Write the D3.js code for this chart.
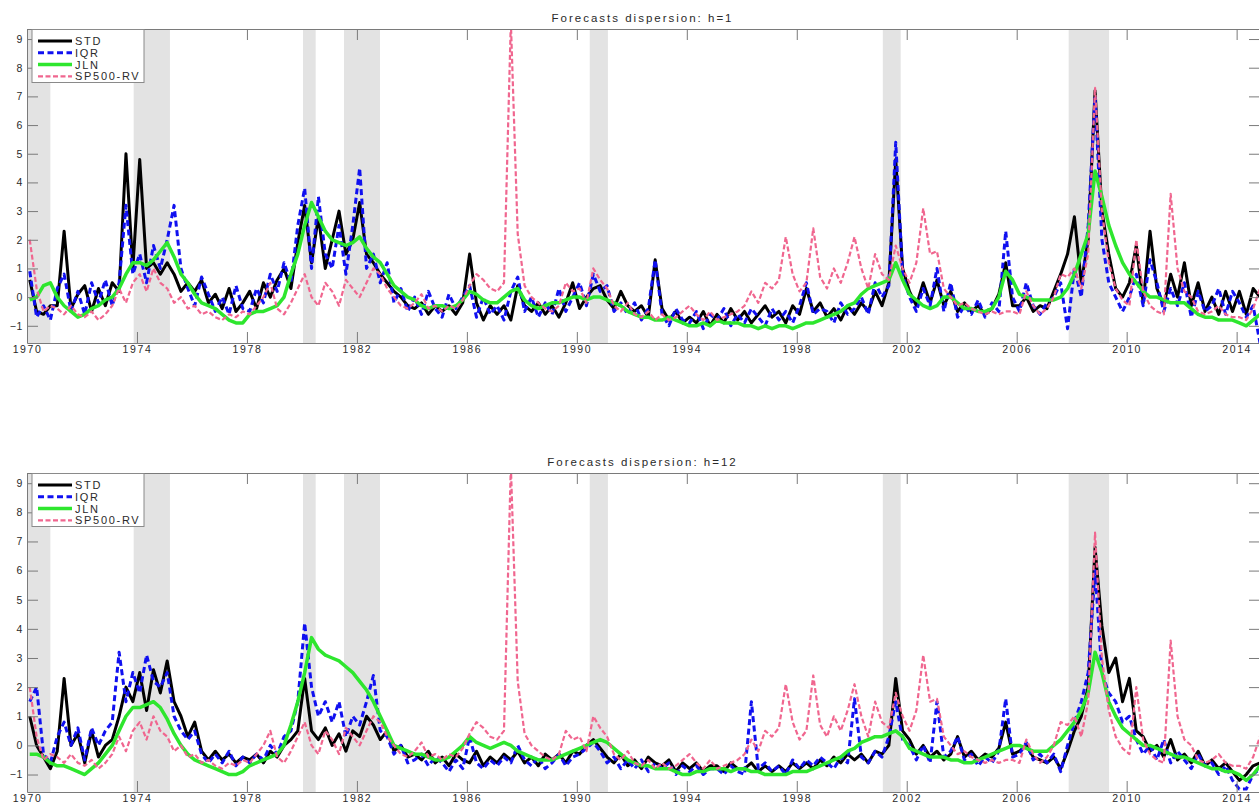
<!DOCTYPE html>
<meta charset="utf-8">
<style>
  body { margin: 0; background: #fff; }
  svg text { font-family: "Liberation Sans", Arial, sans-serif; fill: #2a2a2a; }
</style>
<body>
<script src="https://d3js.org/d3.v7.min.js"></script>
<script>

var width = 1259,
    height = 804;

// values, one per quarter starting 1970Q1
var startYear = 1970,
    perYear = 4,
    inQuarter = 0.4;   // where in the quarter each point sits

var titles = ["Forecasts dispersion: h=1", "Forecasts dispersion: h=12"];
var seriesNames = ["STD", "IQR", "JLN", "SP500-RV"];
var xTicks = [1970, 1974, 1978, 1982, 1986, 1990, 1994, 1998, 2002, 2006, 2010, 2014];
var yTicks = [-1, 0, 1, 2, 3, 4, 5, 6, 7, 8, 9];

// NBER recessions, start and end in fractional years
var recessions = [[1969.95, 1970.85], [1973.88, 1975.2], [1980.04, 1980.5],
                  [1981.53, 1982.84], [1990.47, 1991.13], [2001.13, 2001.78],
                  [2007.89, 2009.36]];

var std1 = [
  0.6,-0.5,-0.6,-0.3,  -0.3,2.3,-0.4,0.1,  0.4,-0.5,0.3,-0.3,  0.5,0.2,5.0,1.0,
  4.8,1.0,1.2,0.8,  1.2,0.8,0.2,0.5,  0.2,0.6,-0.2,0.1,  -0.4,0.3,-0.5,-0.2,
  0.2,-0.4,0.5,0.0,  0.6,1.0,0.3,1.9,  3.2,1.2,2.8,1.0,  2.0,3.0,1.5,2.0,
  3.3,1.5,1.2,0.8,  0.5,0.2,0.0,-0.3,  -0.4,-0.2,-0.6,-0.3,  -0.5,-0.3,-0.6,-0.2,
  1.5,-0.2,-0.8,-0.3,  -0.6,-0.3,-0.8,0.4,  -0.3,-0.5,-0.2,-0.6,  -0.3,-0.7,-0.2,0.5,
  -0.4,0.0,0.3,0.4,  -0.1,-0.4,0.2,-0.3,  -0.5,-0.3,-0.7,1.3,  -0.4,-0.8,-0.5,-0.9,
  -0.7,-0.9,-0.5,-1.0,  -0.6,-0.9,-0.4,-0.8,  -0.5,-0.9,-0.6,-0.3,  -0.7,-0.5,-0.9,-0.3,
  -0.6,0.3,-0.5,-0.2,  -0.7,-0.4,-0.8,-0.3,  -0.6,-0.2,-0.5,0.2,  -0.3,0.5,4.8,1.0,
  0.2,-0.3,0.5,-0.2,  0.6,-0.3,0.2,-0.5,  -0.2,-0.5,-0.3,-0.6,  -0.4,0.1,1.2,-0.3,
  -0.3,0.0,-0.5,-0.3,  -0.4,0.2,0.8,1.5,  2.8,0.5,2.0,7.2,  3.0,1.5,0.3,0.0,
  0.5,1.8,-0.2,2.3,  0.3,-0.3,0.8,0.0,  1.2,-0.3,0.5,-0.5,  0.0,-0.6,0.2,-0.5,
  0.2,-0.6,0.3,0.0
];
var iqr1 = [
  0.9,-0.7,-0.3,-0.8,  0.3,0.8,-0.5,0.2,  -0.6,0.5,-0.2,0.6,  -0.3,0.5,3.2,0.8,
  1.5,0.5,1.8,1.0,  2.0,3.2,1.0,0.3,  -0.3,0.7,0.1,-0.5,  0.0,-0.6,0.4,-0.4,
  -0.5,0.3,-0.2,0.8,  0.2,1.2,0.5,2.5,  3.8,1.0,3.5,1.5,  1.0,2.5,0.8,2.5,
  4.5,1.0,1.5,0.5,  1.2,-0.2,0.3,-0.5,  0.0,-0.6,0.2,-0.4,  -0.7,0.1,-0.4,0.0,
  0.4,-0.7,0.0,-0.6,  -0.3,-0.8,0.2,0.7,  -0.5,0.0,-0.7,-0.2,  -0.6,0.3,-0.5,0.0,
  0.5,-0.3,0.8,0.2,  0.4,-0.5,-0.2,-0.6,  -0.2,-0.8,-0.4,1.3,  -0.6,-1.0,-0.4,-0.8,
  -0.9,-0.5,-1.1,-0.6,  -0.8,-0.4,-1.0,-0.6,  -0.9,-0.4,-0.7,-1.0,  -0.4,-0.8,-0.5,-0.9,
  -0.3,0.5,-0.6,-0.4,  -0.5,-0.9,-0.2,-0.6,  -0.4,0.0,-0.6,0.5,  0.0,0.4,5.4,0.8,
  0.0,-0.5,0.3,-0.3,  1.0,-0.5,0.5,-0.7,  -0.3,-0.6,-0.1,-0.7,  -0.2,-0.5,2.3,0.0,
  -0.5,0.5,-0.3,-0.6,  -0.2,0.0,0.5,-1.1,  1.0,0.0,2.5,7.0,  2.0,0.5,0.0,-0.5,
  0.0,0.8,-0.3,1.3,  0.5,-0.5,0.3,-0.3,  0.5,-0.7,0.2,-0.5,  -0.3,0.3,-0.6,0.2,
  -0.2,-0.7,-0.3,-1.6
];
var jln1 = [
  -0.1,0.0,0.4,0.5,  0.0,-0.3,-0.5,-0.7,  -0.6,-0.4,-0.3,-0.1,  0.0,0.3,0.8,1.2,
  1.2,1.1,1.3,1.6,  1.9,1.4,0.8,0.5,  0.1,-0.2,-0.3,-0.4,  -0.6,-0.8,-0.9,-0.9,
  -0.6,-0.5,-0.5,-0.4,  -0.3,0.0,0.8,1.5,  2.5,3.3,2.8,2.3,  2.0,1.9,1.8,1.9,
  2.1,1.7,1.4,1.2,  0.8,0.4,0.2,0.0,  -0.1,-0.3,-0.4,-0.3,  -0.3,-0.4,-0.3,-0.1,
  0.2,0.1,-0.1,-0.2,  -0.2,0.0,0.2,0.3,  -0.1,-0.3,-0.4,-0.3,  -0.2,-0.2,-0.1,0.0,
  0.0,-0.1,0.0,0.0,  -0.1,-0.2,-0.3,-0.5,  -0.6,-0.7,-0.7,-0.8,  -0.8,-0.7,-0.8,-0.9,
  -1.0,-1.0,-0.9,-1.0,  -0.8,-0.9,-0.9,-0.9,  -1.0,-1.0,-1.1,-1.0,  -1.1,-1.0,-1.0,-1.1,
  -1.0,-0.9,-0.9,-0.8,  -0.7,-0.6,-0.5,-0.3,  -0.2,0.1,0.3,0.4,  0.5,0.6,1.2,0.6,
  0.1,-0.1,-0.3,-0.4,  -0.3,0.0,0.0,-0.2,  -0.4,-0.4,-0.5,-0.5,  -0.4,0.0,0.9,0.6,
  0.1,0.0,-0.1,-0.1,  -0.1,-0.1,0.0,0.3,  0.8,1.5,2.2,4.4,  3.5,2.5,1.8,1.2,
  0.8,0.5,0.2,0.0,  0.0,-0.1,-0.2,-0.2,  -0.2,-0.4,-0.6,-0.7,  -0.7,-0.8,-0.8,-0.8,
  -0.9,-1.0,-0.8,-0.6
];
// the S&P 500 realised volatility is the same in both panels
var rv = [
  2.0,0.3,-0.5,-0.3,  -0.4,-0.6,-0.3,-0.6,  -0.7,-0.5,-0.8,-0.6,  -0.3,0.3,-0.2,0.5,
  0.8,0.2,1.0,0.5,  0.3,-0.2,0.0,-0.4,  -0.3,-0.6,-0.5,-0.7,  -0.8,-0.6,-0.7,-0.5,
  -0.6,-0.3,0.0,0.5,  -0.4,-0.6,-0.2,0.3,  0.8,0.0,-0.3,0.5,  0.2,-0.3,0.6,0.3,
  0.0,0.5,1.0,0.8,  0.3,0.0,-0.3,-0.4,  -0.2,0.1,-0.4,-0.3,  -0.5,-0.3,-0.4,-0.1,
  0.4,0.8,0.6,0.3,  0.2,0.5,9.6,2.2,  0.4,0.0,-0.2,-0.4,  -0.5,-0.3,0.5,0.2,
  0.3,-0.2,1.0,0.6,  0.3,-0.3,-0.5,-0.2,  -0.6,-0.7,-0.5,-0.8,  -0.6,-0.8,-0.7,-0.5,
  -0.3,-0.6,-0.8,-0.5,  -0.8,-0.7,-0.6,-0.5,  -0.3,0.2,-0.2,0.5,  0.3,0.6,2.1,0.8,
  0.2,0.5,2.4,0.7,  0.3,1.0,0.5,1.2,  2.1,1.0,0.3,1.5,  0.8,0.6,1.8,1.0,
  0.5,1.2,3.1,1.5,  1.6,0.3,0.0,-0.3,  -0.2,-0.4,-0.5,-0.6,  -0.5,-0.6,-0.5,-0.5,
  -0.6,0.2,-0.3,-0.6,  -0.4,0.0,0.8,0.7,  1.0,0.3,1.5,7.3,  3.0,1.2,0.3,-0.1,
  -0.3,2.0,0.2,-0.3,  -0.5,-0.6,3.6,1.0,  0.2,0.0,-0.5,-0.6,  -0.5,-0.3,-0.6,-0.7,
  -0.7,-0.8,-0.4,0.3
];
var std12 = [
  1.0,0.0,-0.4,-0.8,  -0.2,2.3,0.0,0.4,  -0.6,0.5,-0.4,0.0,  0.2,1.0,2.0,1.5,
  2.5,1.2,2.6,1.8,  2.9,1.5,1.0,0.3,  0.8,-0.2,-0.5,-0.2,  -0.5,-0.3,-0.6,-0.4,
  -0.5,-0.3,-0.6,-0.2,  -0.4,0.0,0.2,0.5,  2.3,0.5,0.2,0.6,  0.0,0.4,-0.2,0.5,
  0.3,1.0,0.7,0.2,  0.5,-0.2,0.0,-0.4,  -0.3,-0.5,-0.2,-0.6,  -0.4,-0.7,-0.3,-0.5,
  -0.6,-0.2,-0.7,-0.4,  -0.6,-0.3,-0.5,-0.2,  -0.6,-0.4,-0.7,-0.3,  -0.5,-0.3,-0.6,-0.2,
  -0.3,0.0,0.2,-0.1,  -0.4,-0.6,-0.3,-0.7,  -0.5,-0.8,-0.4,-0.6,  -0.7,-0.5,-0.9,-0.6,
  -0.8,-0.6,-0.9,-0.7,  -0.7,-0.9,-0.6,-0.8,  -0.8,-0.6,-0.9,-0.7,  -0.9,-0.7,-0.9,-0.6,
  -0.8,-0.6,-0.8,-0.5,  -0.7,-0.4,-0.6,-0.3,  -0.5,-0.3,-0.6,-0.2,  -0.3,0.0,2.3,0.5,
  0.2,-0.3,0.0,-0.4,  -0.2,-0.5,-0.3,0.3,  -0.4,-0.2,-0.5,-0.3,  -0.4,-0.1,0.8,-0.3,
  -0.2,0.0,-0.4,-0.5,  -0.6,-0.4,-0.8,-0.2,  0.5,1.0,2.0,6.8,  4.1,2.5,3.0,1.5,
  2.3,0.5,0.3,-0.2,  0.0,-0.4,0.2,-0.5,  -0.3,-0.6,-0.2,-0.7,  -0.5,-0.8,-0.6,-0.9,
  -1.2,-1.0,-0.7,-0.6
];
var iqr12 = [
  1.5,2.0,-0.3,-0.6,  0.3,0.8,0.0,0.6,  -0.5,0.6,0.0,0.5,  0.8,3.2,1.5,2.5,
  1.8,3.1,2.2,2.0,  2.5,1.0,0.5,0.2,  0.5,-0.3,-0.6,-0.3,  -0.6,-0.2,-0.7,-0.4,
  -0.6,-0.3,-0.5,0.0,  -0.3,0.3,0.5,1.5,  4.2,2.0,1.0,1.5,  0.8,1.5,0.3,1.0,
  0.7,1.5,2.4,0.5,  0.3,-0.3,0.0,-0.6,  -0.5,-0.3,-0.7,-0.4,  -0.6,-0.9,-0.5,-0.8,
  0.3,-0.6,-0.8,-0.5,  -0.7,-0.4,-0.6,0.0,  -0.5,-0.7,-0.4,-0.8,  -0.6,-0.3,-0.7,-0.4,
  -0.3,-0.1,0.1,-0.2,  -0.6,-0.4,-0.8,-0.5,  -0.8,-0.5,-0.9,-0.6,  -0.8,-0.6,-1.0,-0.7,
  -0.9,-0.7,-1.0,-0.8,  -0.8,-1.0,-0.7,-0.9,  -1.0,1.5,-0.8,-0.6,  -0.9,-0.7,-1.0,-0.5,
  -0.8,-0.5,-0.7,-0.4,  -0.6,-0.8,-0.4,-0.6,  1.6,-0.4,-0.6,-0.2,  -0.4,0.3,1.5,0.2,
  0.0,-0.5,0.0,-0.6,  1.5,-0.4,-0.2,0.3,  -0.5,-0.3,-0.7,-0.4,  -0.6,-0.2,1.6,-0.4,
  -0.3,0.1,-0.5,-0.3,  -0.6,-0.3,-0.9,0.0,  0.8,1.5,2.5,6.0,  2.5,1.8,1.5,0.8,
  1.0,0.2,-0.3,0.0,  -0.5,0.2,-0.6,-0.2,  -0.5,-0.8,-0.3,-0.7,  -0.6,-1.0,-0.7,-1.2,
  -1.5,-1.5,-1.0,-0.8
];
var jln12 = [
  -0.3,-0.3,-0.4,-0.6,  -0.7,-0.7,-0.8,-0.9,  -1.0,-0.8,-0.6,-0.3,  0.0,0.5,1.0,1.3,
  1.3,1.4,1.5,1.3,  0.9,0.4,0.0,-0.3,  -0.5,-0.6,-0.7,-0.8,  -0.9,-1.0,-1.0,-0.9,
  -0.7,-0.6,-0.5,-0.4,  -0.3,0.0,0.7,1.5,  2.5,3.7,3.3,3.1,  3.0,2.9,2.7,2.5,
  2.2,1.9,1.5,1.0,  0.5,0.0,-0.1,-0.2,  -0.3,-0.3,-0.4,-0.5,  -0.5,-0.4,-0.2,0.0,
  0.3,0.1,0.0,-0.1,  0.0,0.1,0.0,-0.2,  -0.3,-0.4,-0.5,-0.5,  -0.5,-0.4,-0.3,-0.2,
  -0.1,0.0,0.1,0.2,  0.1,-0.1,-0.3,-0.5,  -0.6,-0.7,-0.7,-0.8,  -0.8,-0.8,-0.9,-1.0,
  -1.0,-0.9,-0.9,-0.8,  -0.8,-0.8,-0.9,-0.8,  -0.8,-0.9,-0.9,-1.0,  -1.0,-1.0,-1.0,-0.9,
  -0.9,-0.9,-0.8,-0.7,  -0.6,-0.5,-0.4,-0.2,  -0.1,0.1,0.2,0.3,  0.3,0.4,0.5,0.3,
  -0.1,-0.2,-0.3,-0.4,  -0.4,-0.4,-0.5,-0.5,  -0.6,-0.6,-0.5,-0.4,  -0.3,-0.2,-0.1,0.0,
  0.0,-0.1,-0.2,-0.2,  -0.2,0.0,0.2,0.5,  0.8,1.2,1.8,3.2,  2.5,1.5,1.0,0.6,
  0.4,0.2,0.0,0.0,  -0.1,-0.2,-0.3,-0.4,  -0.4,-0.5,-0.6,-0.7,  -0.8,-0.8,-0.9,-0.9,
  -1.0,-1.2,-1.0,-0.7
];

var panels = [
  {title: titles[0], top: 29, bottom: 343, series: [std1, iqr1, jln1, rv]},
  {title: titles[1], top: 473, bottom: 792, series: [std12, iqr12, jln12, rv]}
];

var styles = [
  {color: "#000000", width: 3, dash: null},
  {color: "#1010f0", width: 3, dash: "6,3.5"},
  {color: "#2ee62e", width: 3.5, dash: null},
  {color: "#f0668f", width: 2.2, dash: "5,2.5"}
];

var left = 27, right = 1260;

var x = d3.scaleLinear().domain([1970, 2014.85]).range([left, right]);

var svg = d3.select("body").append("svg")
    .attr("width", width)
    .attr("height", height);

panels.forEach(function(p, pi) {
  var y = d3.scaleLinear().domain([-1.6, 9.35]).range([p.bottom, p.top]);
  var g = svg.append("g");

  g.append("clipPath").attr("id", "clip" + pi)
    .append("rect")
      .attr("x", left).attr("y", p.top)
      .attr("width", right - left).attr("height", p.bottom - p.top);

  g.selectAll("rect.rec")
      .data(recessions)
    .enter().append("rect")
      .attr("class", "rec")
      .attr("clip-path", "url(#clip" + pi + ")")
      .attr("x", function(d) { return x(d[0]); })
      .attr("width", function(d) { return x(d[1]) - x(d[0]); })
      .attr("y", p.top)
      .attr("height", p.bottom - p.top)
      .style("fill", "#e3e3e3");

  var line = d3.line()
      .x(function(d, i) { return x(startYear + (i + inQuarter) / perYear); })
      .y(function(d) { return y(d); });

  p.series.forEach(function(s, si) {
    g.append("path")
        .datum(s)
        .attr("clip-path", "url(#clip" + pi + ")")
        .attr("d", line)
        .style("fill", "none")
        .style("stroke", styles[si].color)
        .style("stroke-width", styles[si].width)
        .style("stroke-dasharray", styles[si].dash)
        .style("stroke-linejoin", "round");
  });

  // axes, matlab style: ticks pointing in on all four sides
  var tickLen = 11;
  var bottomAxis = d3.axisBottom(x).tickValues(xTicks).tickFormat(d3.format("d"))
      .tickSizeInner(-tickLen).tickSizeOuter(0).tickPadding(3);
  var topAxis = d3.axisTop(x).tickValues(xTicks).tickFormat("")
      .tickSizeInner(-tickLen).tickSizeOuter(0);
  var leftAxis = d3.axisLeft(y).tickValues(yTicks)
      .tickSizeInner(-tickLen).tickSizeOuter(0).tickPadding(4);
  var rightAxis = d3.axisRight(y).tickValues(yTicks).tickFormat("")
      .tickSizeInner(-tickLen).tickSizeOuter(0);

  [[bottomAxis, "translate(0," + p.bottom + ")", 1.6],
   [topAxis, "translate(0," + p.top + ")", 0],
   [leftAxis, "translate(" + left + ",0)", 0.6],
   [rightAxis, "translate(" + right + ",0)", 0]].forEach(function(a) {
    var ax = g.append("g").attr("transform", a[1]).call(a[0]);
    ax.select(".domain").style("stroke", "#7a7a7a");
    ax.selectAll(".tick line").style("stroke", "#7a7a7a");
    ax.selectAll(".tick text")
        .style("font-size", "10.5px")
        .style("letter-spacing", a[2] + "px")
        .style("fill", "#2a2a2a");
  });

  g.append("text")
      .attr("x", (left + right) / 2 - 1)
      .attr("y", p.top - 7)
      .attr("text-anchor", "middle")
      .style("font-size", "11.5px")
      .style("letter-spacing", "2px")
      .text(p.title);

  // legend
  var lg = g.append("g").attr("transform", "translate(32," + p.top + ")");
  lg.append("rect")
      .attr("x", 0).attr("y", 0.5)
      .attr("width", 112).attr("height", 53)
      .style("fill", "#fff")
      .style("stroke", "#8a8a8a")
      .style("stroke-width", 1);
  seriesNames.forEach(function(name, si) {
    var ly = 12 + si * 11.8;
    lg.append("line")
        .attr("x1", 6).attr("x2", 40)
        .attr("y1", ly).attr("y2", ly)
        .style("stroke", styles[si].color)
        .style("stroke-width", styles[si].width)
        .style("stroke-dasharray", styles[si].dash);
    lg.append("text")
        .attr("x", 43).attr("y", ly)
        .attr("dy", "0.36em")
        .style("font-size", "11px")
        .style("letter-spacing", "1.7px")
        .text(name);
  });
});

</script>
</body>
